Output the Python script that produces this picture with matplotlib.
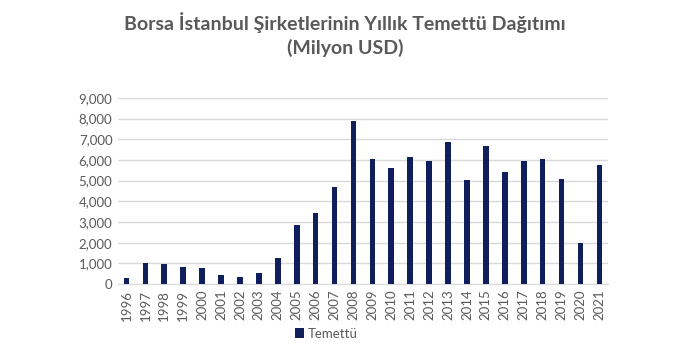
import matplotlib
matplotlib.use('Agg')
from matplotlib import pyplot as plt
from matplotlib.ticker import MultipleLocator, FuncFormatter

years = [str(y) for y in range(1996, 2022)]
temettu = [280, 1030, 970, 840, 760, 440, 355, 550, 1280, 2860, 3425, 4685,
           7900, 6040, 5605, 6120, 5930, 6865, 5010, 6655, 5410, 5960, 6040,
           5090, 2000, 5750]

plt.rcParams['font.family'] = ['Lato', 'DejaVu Sans']

bar_color = '#0f1f5c'
text_color = '#595959'

fig = plt.figure(figsize=(6.9, 3.56), dpi=100)
ax = fig.add_axes([0.171, 0.202, 0.710, 0.523])

x = range(len(years))
ax.bar(x, temettu, width=0.3, color=bar_color, label='Temettü', zorder=3)

# Vertical axis
ax.set_ylim(0, 9000)
ax.yaxis.set_major_locator(MultipleLocator(1000))
ax.yaxis.set_major_formatter(FuncFormatter(lambda v, p: '{:,.0f}'.format(v)))
ax.grid(axis='y', color='#d9d9d9', linewidth=1, zorder=0)

# Horizontal axis
ax.set_xlim(-0.45, len(years) - 0.55)
ax.set_xticks(list(x))
ax.set_xticklabels(years, rotation=90)

for s in ['top', 'right', 'left']:
    ax.spines[s].set_visible(False)
ax.spines['bottom'].set_color('#d9d9d9')
ax.tick_params(axis='both', length=0, labelsize=9.5, colors=text_color, pad=4)

fig.suptitle('Borsa İstanbul Şirketlerinin Yıllık Temettü Dağıtımı\n(Milyon USD)',
             x=0.5, y=0.965, fontsize=14, fontweight='bold', color=text_color,
             linespacing=1.4)

ax.legend(loc='upper center', bbox_to_anchor=(0.425, -0.17), frameon=False,
          fontsize=9.5, labelcolor=text_color, handlelength=0.7, handleheight=0.7,
          handletextpad=0.3)

plt.savefig('out.png', dpi=100)
